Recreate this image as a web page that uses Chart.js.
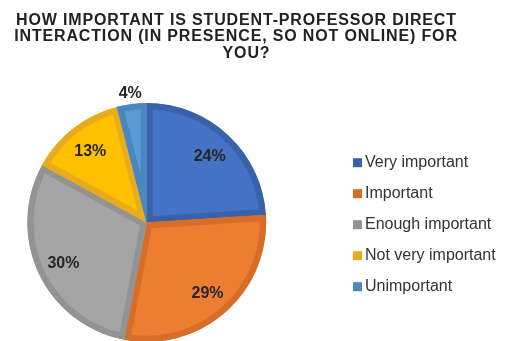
<!DOCTYPE html>
<html>
<head>
<meta charset="utf-8">
<script src="https://cdn.jsdelivr.net/npm/chart.js@4.4.1/dist/chart.umd.min.js"></script>
<style>
  html, body { margin: 0; padding: 0; background: #fff; }
  canvas { display: block; }
</style>
</head>
<body>
<canvas id="chart" width="509" height="341"></canvas>
<script>
"use strict";

// Survey answers, clockwise from 12 o'clock.
const TITLE_LINES = [
  "HOW IMPORTANT IS STUDENT-PROFESSOR DIRECT",
  "INTERACTION (IN PRESENCE, SO NOT ONLINE) FOR",
  "YOU?",
];
const CATEGORIES = ["Very important", "Important", "Enough important", "Not very important", "Unimportant"];
const SHARES = [24, 29, 30, 13, 4];
const FILLS = ["#4472c4", "#ed7d31", "#a5a5a5", "#ffc000", "#5b9bd5"];
const EDGES = ["#3a62ab", "#d66e29", "#939393", "#e6ac1e", "#4b87bf"];

const FONT = "'Liberation Sans', Arial, sans-serif";

// Three centred title lines above the pie.
const titleLines = {
  id: "titleLines",
  afterDraw(chart) {
    const ctx = chart.ctx;
    const spots = [[236.5, 24.5], [236, 41], [246.5, 58.3]];
    ctx.save();
    ctx.font = `bold 16px ${FONT}`;
    ctx.letterSpacing = "0.85px";
    ctx.fillStyle = "#222";
    ctx.textAlign = "center";
    ctx.textBaseline = "alphabetic";
    TITLE_LINES.forEach((line, i) => ctx.fillText(line, spots[i][0], spots[i][1]));
    ctx.restore();
  },
};

// Percent labels: inside each slice, small slices get theirs just outside the rim.
const sliceLabels = {
  id: "sliceLabels",
  afterDatasetsDraw(chart) {
    const ctx = chart.ctx;
    const meta = chart.getDatasetMeta(0);
    ctx.save();
    ctx.font = `bold 16px ${FONT}`;
    ctx.fillStyle = "#262626";
    ctx.textAlign = "center";
    ctx.textBaseline = "alphabetic";
    meta.data.forEach((arc, i) => {
      const { x, y, startAngle, endAngle, outerRadius } = arc.getProps(
        ["x", "y", "startAngle", "endAngle", "outerRadius"], true);
      const mid = (startAngle + endAngle) / 2;
      const value = chart.data.datasets[0].data[i];
      const r = value < 5 ? outerRadius + 12 : outerRadius * 0.77;
      ctx.fillText(`${value}%`, x + Math.cos(mid) * r, y + Math.sin(mid) * r + 6);
    });
    ctx.restore();
  },
};

// Legend on the right: small square + label per category.
const sideLegend = {
  id: "sideLegend",
  afterDraw(chart) {
    const ctx = chart.ctx;
    const left = 353;
    const firstBase = 166.7;
    const step = 31;
    ctx.save();
    ctx.font = `16px ${FONT}`;
    ctx.textAlign = "left";
    ctx.textBaseline = "alphabetic";
    chart.data.labels.forEach((label, i) => {
      const base = firstBase + i * step;
      ctx.fillStyle = chart.data.datasets[0].borderColor[i];
      ctx.fillRect(left, base - 8.5, 9, 9);
      ctx.fillStyle = "#333";
      ctx.fillText(label, left + 12, base);
    });
    ctx.restore();
  },
};

new Chart(document.getElementById("chart"), {
  type: "pie",
  data: {
    labels: CATEGORIES,
    datasets: [{
      data: SHARES,
      backgroundColor: FILLS,
      borderColor: EDGES,
      borderWidth: 6,
      borderAlign: "inner",
      hoverOffset: 0,
      offset: 0,
    }],
  },
  options: {
    responsive: false,
    animation: false,
    radius: 119.5,
    layout: { padding: { left: 27, right: 242.6, top: 104, bottom: 0 } },
    plugins: {
      legend: { display: false },
      title: { display: false },
      tooltip: { enabled: false },
    },
  },
  plugins: [titleLines, sliceLabels, sideLegend],
});
</script>
</body>
</html>
